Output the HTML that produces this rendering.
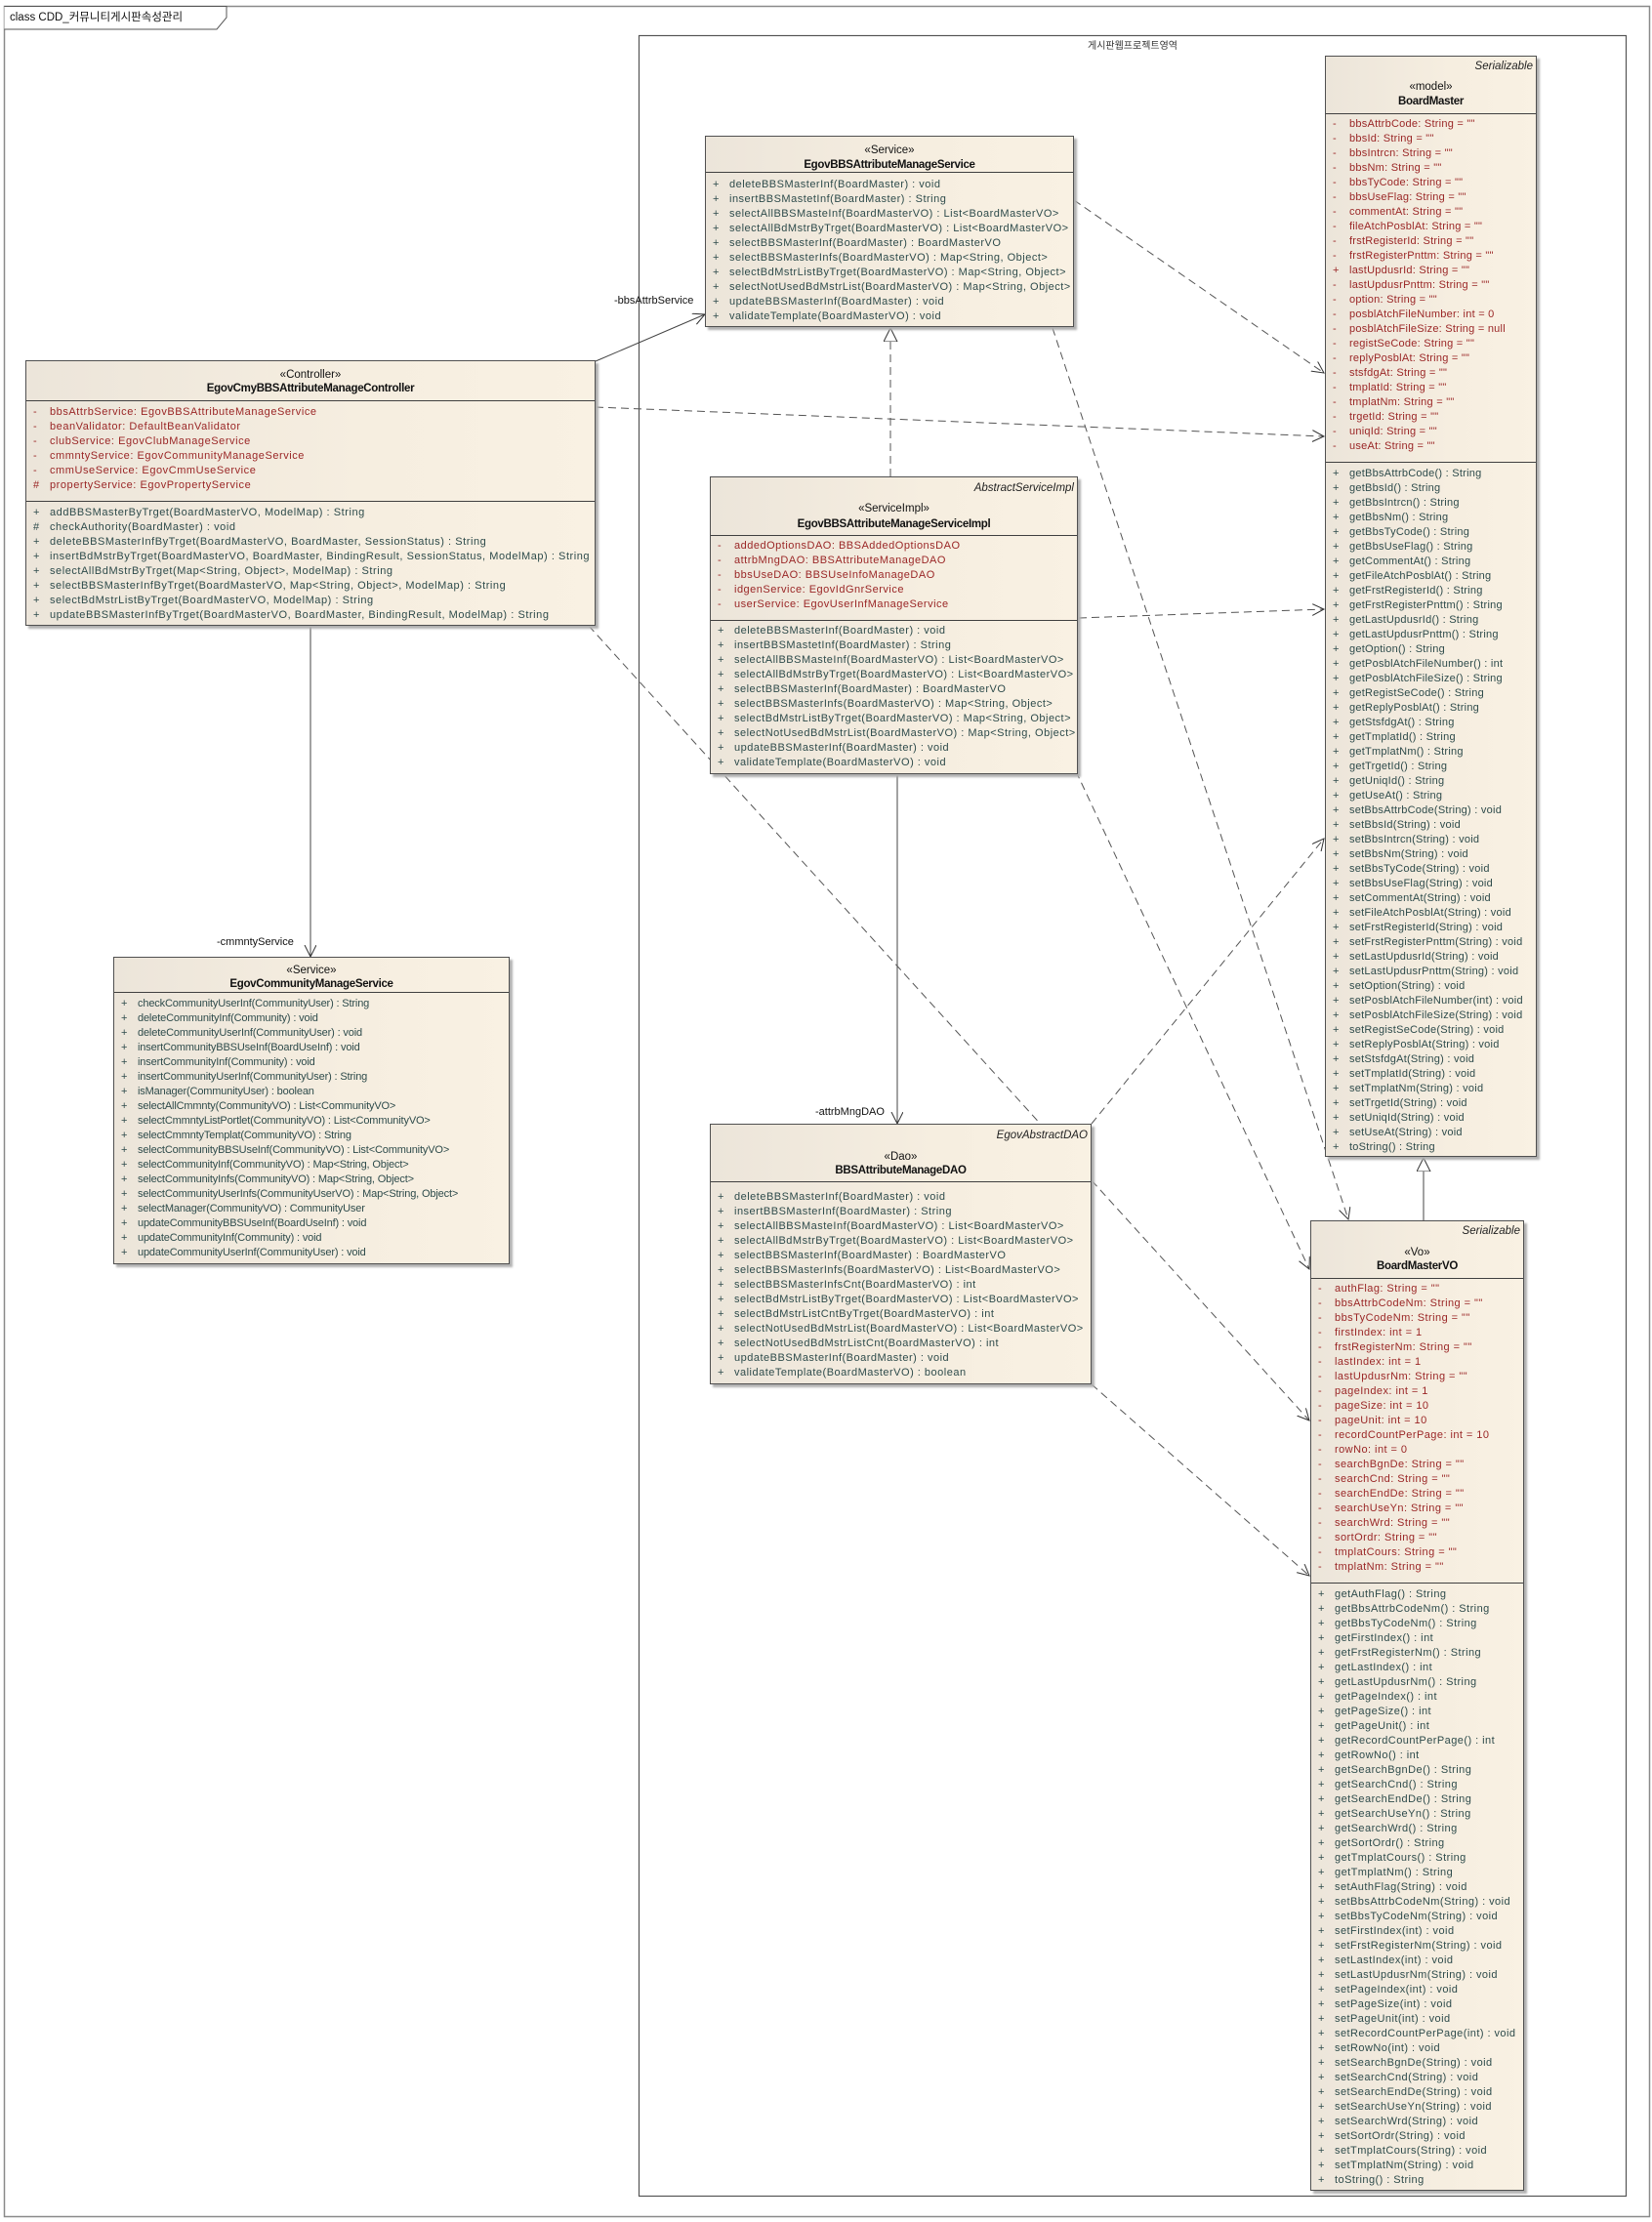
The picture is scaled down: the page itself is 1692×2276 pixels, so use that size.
<!DOCTYPE html>
<html><head><meta charset="utf-8">
<style>
html,body{margin:0;padding:0;background:#fff;}
body{width:1692px;height:2276px;position:relative;overflow:hidden;font-family:"Liberation Sans","Noto Sans CJK KR",sans-serif;}
.box{position:absolute;border:1px solid #505050;background:linear-gradient(90deg,#ece5da 0%,#f6eee0 60%,#f9f1e3 100%);box-shadow:3px 3px 2px #b0b0b0;box-sizing:border-box;}
.c{position:absolute;left:0;right:0;text-align:center;font-size:11.5px;line-height:14px;color:#111;white-space:nowrap;}
.n{font-weight:bold;letter-spacing:-0.3px;}
.it{position:absolute;right:3px;font-style:italic;font-size:11.5px;line-height:14px;color:#222;}
.dv{position:absolute;left:0;right:0;height:0;border-top:1px solid #404040;}
.rows{position:absolute;left:0;right:0;font-size:11px;line-height:15px;white-space:nowrap;letter-spacing:-0.15px;}
.rows div{position:relative;height:15px;padding-left:24px;}
.rows span{position:absolute;left:7px;letter-spacing:0;}
.a{color:#9a2626;}
.m{color:#2e4b4b;}
.w{font-size:11px !important;letter-spacing:0.5px !important;}
.lbl{position:absolute;font-size:11px;color:#111;white-space:nowrap;}
</style></head><body>

<svg width="1692" height="2276" style="position:absolute;left:0;top:0" xmlns="http://www.w3.org/2000/svg">
<defs>
<marker id="op" markerWidth="14" markerHeight="14" refX="12" refY="6" orient="auto" markerUnits="userSpaceOnUse"><path d="M0,0 L12,6 L0,12" fill="none" stroke="#333" stroke-width="1"/></marker>
<marker id="tri" markerWidth="16" markerHeight="16" refX="14" refY="7" orient="auto" markerUnits="userSpaceOnUse"><path d="M0,0 L14,7 L0,14 Z" fill="#fff" stroke="#333" stroke-width="1"/></marker>
</defs>
<rect x="4.5" y="6.5" width="1685" height="2264" fill="none" stroke="#8a8a8a" stroke-width="1.5"/>
<path d="M4.5,6.5 L232,6.5 L232,18 L222,30 L4.5,30" fill="#fff" stroke="#555" stroke-width="1"/>
<rect x="654.5" y="36.5" width="1011" height="2213" fill="none" stroke="#555" stroke-width="1.2"/>
<g stroke="#444" stroke-width="1" fill="none">
<line x1="610" y1="370" x2="722" y2="322" marker-end="url(#op)"/>
<line x1="318" y1="641" x2="318" y2="980" marker-end="url(#op)"/>
<line x1="919" y1="793" x2="919" y2="1151" marker-end="url(#op)"/>
<line x1="1458" y1="1250" x2="1458" y2="1186" marker-end="url(#tri)"/>
</g>
<g stroke="#555" stroke-width="1" fill="none" stroke-dasharray="8,5">
<line x1="912" y1="488" x2="912" y2="336" marker-end="url(#tri)"/>
<line x1="610" y1="417" x2="1356" y2="447" marker-end="url(#op)"/>
<line x1="1100" y1="205" x2="1356" y2="382" marker-end="url(#op)"/>
<line x1="1078" y1="336" x2="1381" y2="1249" marker-end="url(#op)"/>
<line x1="1105" y1="633" x2="1356" y2="624" marker-end="url(#op)"/>
<line x1="1102" y1="790" x2="1341" y2="1300" marker-end="url(#op)"/>
<line x1="1118" y1="1151" x2="1356" y2="859" marker-end="url(#op)"/>
<line x1="1118" y1="1418" x2="1341" y2="1614" marker-end="url(#op)"/>
<line x1="603" y1="641" x2="1341" y2="1455" marker-end="url(#op)"/>
</g>
</svg>

<div class="lbl" style="left:10px;top:9px;font-size:11.5px;">class CDD_커뮤니티게시판속성관리</div>
<div class="lbl" style="left:1060px;width:200px;text-align:center;top:38px;font-size:10px;color:#333;">게시판웹프로젝트영역</div>
<div class="lbl" style="left:629px;top:302px;">-bbsAttrbService</div>
<div class="lbl" style="left:222px;top:959px;">-cmmntyService</div>
<div class="lbl" style="left:835px;top:1133px;">-attrbMngDAO</div>

<!-- Controller -->
<div class="box" style="left:26px;top:369px;width:584px;height:272px;">
<div class="c" style="top:7px">«Controller»</div>
<div class="c n" style="top:21px">EgovCmyBBSAttributeManageController</div>
<div class="dv" style="top:40px"></div>
<div class="rows a" style="top:45px;letter-spacing:0.55px">
<div><span>-</span>bbsAttrbService:  EgovBBSAttributeManageService</div>
<div><span>-</span>beanValidator:  DefaultBeanValidator</div>
<div><span>-</span>clubService:  EgovClubManageService</div>
<div><span>-</span>cmmntyService:  EgovCommunityManageService</div>
<div><span>-</span>cmmUseService:  EgovCmmUseService</div>
<div><span>#</span>propertyService:  EgovPropertyService</div>
</div>
<div class="dv" style="top:143px"></div>
<div class="rows m" style="top:148px;letter-spacing:0.55px">
<div><span>+</span>addBBSMasterByTrget(BoardMasterVO, ModelMap) : String</div>
<div><span>#</span>checkAuthority(BoardMaster) : void</div>
<div><span>+</span>deleteBBSMasterInfByTrget(BoardMasterVO, BoardMaster, SessionStatus) : String</div>
<div><span>+</span>insertBdMstrByTrget(BoardMasterVO, BoardMaster, BindingResult, SessionStatus, ModelMap) : String</div>
<div><span>+</span>selectAllBdMstrByTrget(Map&lt;String, Object&gt;, ModelMap) : String</div>
<div><span>+</span>selectBBSMasterInfByTrget(BoardMasterVO, Map&lt;String, Object&gt;, ModelMap) : String</div>
<div><span>+</span>selectBdMstrListByTrget(BoardMasterVO, ModelMap) : String</div>
<div><span>+</span>updateBBSMasterInfByTrget(BoardMasterVO, BoardMaster, BindingResult, ModelMap) : String</div>
</div>
</div>

<!-- Service -->
<div class="box" style="left:722px;top:139px;width:378px;height:196px;">
<div class="c" style="top:7px">«Service»</div>
<div class="c n" style="top:22px">EgovBBSAttributeManageService</div>
<div class="dv" style="top:36px"></div>
<div class="rows m w" style="top:42px">
<div><span>+</span>deleteBBSMasterInf(BoardMaster) : void</div>
<div><span>+</span>insertBBSMastetInf(BoardMaster) : String</div>
<div><span>+</span>selectAllBBSMasteInf(BoardMasterVO) : List&lt;BoardMasterVO&gt;</div>
<div><span>+</span>selectAllBdMstrByTrget(BoardMasterVO) : List&lt;BoardMasterVO&gt;</div>
<div><span>+</span>selectBBSMasterInf(BoardMaster) : BoardMasterVO</div>
<div><span>+</span>selectBBSMasterInfs(BoardMasterVO) : Map&lt;String, Object&gt;</div>
<div><span>+</span>selectBdMstrListByTrget(BoardMasterVO) : Map&lt;String, Object&gt;</div>
<div><span>+</span>selectNotUsedBdMstrList(BoardMasterVO) : Map&lt;String, Object&gt;</div>
<div><span>+</span>updateBBSMasterInf(BoardMaster) : void</div>
<div><span>+</span>validateTemplate(BoardMasterVO) : void</div>
</div>
</div>

<!-- ServiceImpl -->
<div class="box" style="left:727px;top:488px;width:377px;height:305px;">
<div class="it" style="top:4px">AbstractServiceImpl</div>
<div class="c" style="top:25px">«ServiceImpl»</div>
<div class="c n" style="top:41px">EgovBBSAttributeManageServiceImpl</div>
<div class="dv" style="top:59px"></div>
<div class="rows a w" style="top:63px">
<div><span>-</span>addedOptionsDAO:  BBSAddedOptionsDAO</div>
<div><span>-</span>attrbMngDAO:  BBSAttributeManageDAO</div>
<div><span>-</span>bbsUseDAO:  BBSUseInfoManageDAO</div>
<div><span>-</span>idgenService:  EgovIdGnrService</div>
<div><span>-</span>userService:  EgovUserInfManageService</div>
</div>
<div class="dv" style="top:146px"></div>
<div class="rows m w" style="top:150px">
<div><span>+</span>deleteBBSMasterInf(BoardMaster) : void</div>
<div><span>+</span>insertBBSMastetInf(BoardMaster) : String</div>
<div><span>+</span>selectAllBBSMasteInf(BoardMasterVO) : List&lt;BoardMasterVO&gt;</div>
<div><span>+</span>selectAllBdMstrByTrget(BoardMasterVO) : List&lt;BoardMasterVO&gt;</div>
<div><span>+</span>selectBBSMasterInf(BoardMaster) : BoardMasterVO</div>
<div><span>+</span>selectBBSMasterInfs(BoardMasterVO) : Map&lt;String, Object&gt;</div>
<div><span>+</span>selectBdMstrListByTrget(BoardMasterVO) : Map&lt;String, Object&gt;</div>
<div><span>+</span>selectNotUsedBdMstrList(BoardMasterVO) : Map&lt;String, Object&gt;</div>
<div><span>+</span>updateBBSMasterInf(BoardMaster) : void</div>
<div><span>+</span>validateTemplate(BoardMasterVO) : void</div>
</div>
</div>

<!-- Community -->
<div class="box" style="left:116px;top:980px;width:406px;height:315px;">
<div class="c" style="top:6px">«Service»</div>
<div class="c n" style="top:20px">EgovCommunityManageService</div>
<div class="dv" style="top:35px"></div>
<div class="rows m" style="top:40px">
<div><span>+</span>checkCommunityUserInf(CommunityUser) : String</div>
<div><span>+</span>deleteCommunityInf(Community) : void</div>
<div><span>+</span>deleteCommunityUserInf(CommunityUser) : void</div>
<div><span>+</span>insertCommunityBBSUseInf(BoardUseInf) : void</div>
<div><span>+</span>insertCommunityInf(Community) : void</div>
<div><span>+</span>insertCommunityUserInf(CommunityUser) : String</div>
<div><span>+</span>isManager(CommunityUser) : boolean</div>
<div><span>+</span>selectAllCmmnty(CommunityVO) : List&lt;CommunityVO&gt;</div>
<div><span>+</span>selectCmmntyListPortlet(CommunityVO) : List&lt;CommunityVO&gt;</div>
<div><span>+</span>selectCmmntyTemplat(CommunityVO) : String</div>
<div><span>+</span>selectCommunityBBSUseInf(CommunityVO) : List&lt;CommunityVO&gt;</div>
<div><span>+</span>selectCommunityInf(CommunityVO) : Map&lt;String, Object&gt;</div>
<div><span>+</span>selectCommunityInfs(CommunityVO) : Map&lt;String, Object&gt;</div>
<div><span>+</span>selectCommunityUserInfs(CommunityUserVO) : Map&lt;String, Object&gt;</div>
<div><span>+</span>selectManager(CommunityVO) : CommunityUser</div>
<div><span>+</span>updateCommunityBBSUseInf(BoardUseInf) : void</div>
<div><span>+</span>updateCommunityInf(Community) : void</div>
<div><span>+</span>updateCommunityUserInf(CommunityUser) : void</div>
</div>
</div>

<!-- DAO -->
<div class="box" style="left:727px;top:1151px;width:391px;height:267px;">
<div class="it" style="top:4px">EgovAbstractDAO</div>
<div class="c" style="top:26px">«Dao»</div>
<div class="c n" style="top:40px">BBSAttributeManageDAO</div>
<div class="dv" style="top:58px"></div>
<div class="rows m w" style="top:67px">
<div><span>+</span>deleteBBSMasterInf(BoardMaster) : void</div>
<div><span>+</span>insertBBSMasterInf(BoardMaster) : String</div>
<div><span>+</span>selectAllBBSMasteInf(BoardMasterVO) : List&lt;BoardMasterVO&gt;</div>
<div><span>+</span>selectAllBdMstrByTrget(BoardMasterVO) : List&lt;BoardMasterVO&gt;</div>
<div><span>+</span>selectBBSMasterInf(BoardMaster) : BoardMasterVO</div>
<div><span>+</span>selectBBSMasterInfs(BoardMasterVO) : List&lt;BoardMasterVO&gt;</div>
<div><span>+</span>selectBBSMasterInfsCnt(BoardMasterVO) : int</div>
<div><span>+</span>selectBdMstrListByTrget(BoardMasterVO) : List&lt;BoardMasterVO&gt;</div>
<div><span>+</span>selectBdMstrListCntByTrget(BoardMasterVO) : int</div>
<div><span>+</span>selectNotUsedBdMstrList(BoardMasterVO) : List&lt;BoardMasterVO&gt;</div>
<div><span>+</span>selectNotUsedBdMstrListCnt(BoardMasterVO) : int</div>
<div><span>+</span>updateBBSMasterInf(BoardMaster) : void</div>
<div><span>+</span>validateTemplate(BoardMasterVO) : boolean</div>
</div>
</div>

<!-- BoardMaster -->
<div class="box" style="left:1357px;top:57px;width:217px;height:1128px;">
<div class="it" style="top:3px">Serializable</div>
<div class="c" style="top:24px">«model»</div>
<div class="c n" style="top:39px">BoardMaster</div>
<div class="dv" style="top:58px"></div>
<div class="rows a" style="top:62px;letter-spacing:0.25px">
<div><span>-</span>bbsAttrbCode:  String = ""</div>
<div><span>-</span>bbsId:  String = ""</div>
<div><span>-</span>bbsIntrcn:  String = ""</div>
<div><span>-</span>bbsNm:  String = ""</div>
<div><span>-</span>bbsTyCode:  String = ""</div>
<div><span>-</span>bbsUseFlag:  String = ""</div>
<div><span>-</span>commentAt:  String = ""</div>
<div><span>-</span>fileAtchPosblAt:  String = ""</div>
<div><span>-</span>frstRegisterId:  String = ""</div>
<div><span>-</span>frstRegisterPnttm:  String = ""</div>
<div><span>+</span>lastUpdusrId:  String = ""</div>
<div><span>-</span>lastUpdusrPnttm:  String = ""</div>
<div><span>-</span>option:  String = ""</div>
<div><span>-</span>posblAtchFileNumber:  int = 0</div>
<div><span>-</span>posblAtchFileSize:  String = null</div>
<div><span>-</span>registSeCode:  String = ""</div>
<div><span>-</span>replyPosblAt:  String = ""</div>
<div><span>-</span>stsfdgAt:  String = ""</div>
<div><span>-</span>tmplatId:  String = ""</div>
<div><span>-</span>tmplatNm:  String = ""</div>
<div><span>-</span>trgetId:  String = ""</div>
<div><span>-</span>uniqId:  String = ""</div>
<div><span>-</span>useAt:  String = ""</div>
</div>
<div class="dv" style="top:415px"></div>
<div class="rows m" style="top:420px;letter-spacing:0.25px">
<div><span>+</span>getBbsAttrbCode() : String</div>
<div><span>+</span>getBbsId() : String</div>
<div><span>+</span>getBbsIntrcn() : String</div>
<div><span>+</span>getBbsNm() : String</div>
<div><span>+</span>getBbsTyCode() : String</div>
<div><span>+</span>getBbsUseFlag() : String</div>
<div><span>+</span>getCommentAt() : String</div>
<div><span>+</span>getFileAtchPosblAt() : String</div>
<div><span>+</span>getFrstRegisterId() : String</div>
<div><span>+</span>getFrstRegisterPnttm() : String</div>
<div><span>+</span>getLastUpdusrId() : String</div>
<div><span>+</span>getLastUpdusrPnttm() : String</div>
<div><span>+</span>getOption() : String</div>
<div><span>+</span>getPosblAtchFileNumber() : int</div>
<div><span>+</span>getPosblAtchFileSize() : String</div>
<div><span>+</span>getRegistSeCode() : String</div>
<div><span>+</span>getReplyPosblAt() : String</div>
<div><span>+</span>getStsfdgAt() : String</div>
<div><span>+</span>getTmplatId() : String</div>
<div><span>+</span>getTmplatNm() : String</div>
<div><span>+</span>getTrgetId() : String</div>
<div><span>+</span>getUniqId() : String</div>
<div><span>+</span>getUseAt() : String</div>
<div><span>+</span>setBbsAttrbCode(String) : void</div>
<div><span>+</span>setBbsId(String) : void</div>
<div><span>+</span>setBbsIntrcn(String) : void</div>
<div><span>+</span>setBbsNm(String) : void</div>
<div><span>+</span>setBbsTyCode(String) : void</div>
<div><span>+</span>setBbsUseFlag(String) : void</div>
<div><span>+</span>setCommentAt(String) : void</div>
<div><span>+</span>setFileAtchPosblAt(String) : void</div>
<div><span>+</span>setFrstRegisterId(String) : void</div>
<div><span>+</span>setFrstRegisterPnttm(String) : void</div>
<div><span>+</span>setLastUpdusrId(String) : void</div>
<div><span>+</span>setLastUpdusrPnttm(String) : void</div>
<div><span>+</span>setOption(String) : void</div>
<div><span>+</span>setPosblAtchFileNumber(int) : void</div>
<div><span>+</span>setPosblAtchFileSize(String) : void</div>
<div><span>+</span>setRegistSeCode(String) : void</div>
<div><span>+</span>setReplyPosblAt(String) : void</div>
<div><span>+</span>setStsfdgAt(String) : void</div>
<div><span>+</span>setTmplatId(String) : void</div>
<div><span>+</span>setTmplatNm(String) : void</div>
<div><span>+</span>setTrgetId(String) : void</div>
<div><span>+</span>setUniqId(String) : void</div>
<div><span>+</span>setUseAt(String) : void</div>
<div><span>+</span>toString() : String</div>
</div>
</div>

<!-- BoardMasterVO -->
<div class="box" style="left:1342px;top:1250px;width:219px;height:994px;">
<div class="it" style="top:3px">Serializable</div>
<div class="c" style="top:25px">«Vo»</div>
<div class="c n" style="top:39px">BoardMasterVO</div>
<div class="dv" style="top:58px"></div>
<div class="rows a" style="top:62px;letter-spacing:0.45px">
<div><span>-</span>authFlag:  String = ""</div>
<div><span>-</span>bbsAttrbCodeNm:  String = ""</div>
<div><span>-</span>bbsTyCodeNm:  String = ""</div>
<div><span>-</span>firstIndex:  int = 1</div>
<div><span>-</span>frstRegisterNm:  String = ""</div>
<div><span>-</span>lastIndex:  int = 1</div>
<div><span>-</span>lastUpdusrNm:  String = ""</div>
<div><span>-</span>pageIndex:  int = 1</div>
<div><span>-</span>pageSize:  int = 10</div>
<div><span>-</span>pageUnit:  int = 10</div>
<div><span>-</span>recordCountPerPage:  int = 10</div>
<div><span>-</span>rowNo:  int = 0</div>
<div><span>-</span>searchBgnDe:  String = ""</div>
<div><span>-</span>searchCnd:  String = ""</div>
<div><span>-</span>searchEndDe:  String = ""</div>
<div><span>-</span>searchUseYn:  String = ""</div>
<div><span>-</span>searchWrd:  String = ""</div>
<div><span>-</span>sortOrdr:  String = ""</div>
<div><span>-</span>tmplatCours:  String = ""</div>
<div><span>-</span>tmplatNm:  String = ""</div>
</div>
<div class="dv" style="top:370px"></div>
<div class="rows m" style="top:375px;letter-spacing:0.45px">
<div><span>+</span>getAuthFlag() : String</div>
<div><span>+</span>getBbsAttrbCodeNm() : String</div>
<div><span>+</span>getBbsTyCodeNm() : String</div>
<div><span>+</span>getFirstIndex() : int</div>
<div><span>+</span>getFrstRegisterNm() : String</div>
<div><span>+</span>getLastIndex() : int</div>
<div><span>+</span>getLastUpdusrNm() : String</div>
<div><span>+</span>getPageIndex() : int</div>
<div><span>+</span>getPageSize() : int</div>
<div><span>+</span>getPageUnit() : int</div>
<div><span>+</span>getRecordCountPerPage() : int</div>
<div><span>+</span>getRowNo() : int</div>
<div><span>+</span>getSearchBgnDe() : String</div>
<div><span>+</span>getSearchCnd() : String</div>
<div><span>+</span>getSearchEndDe() : String</div>
<div><span>+</span>getSearchUseYn() : String</div>
<div><span>+</span>getSearchWrd() : String</div>
<div><span>+</span>getSortOrdr() : String</div>
<div><span>+</span>getTmplatCours() : String</div>
<div><span>+</span>getTmplatNm() : String</div>
<div><span>+</span>setAuthFlag(String) : void</div>
<div><span>+</span>setBbsAttrbCodeNm(String) : void</div>
<div><span>+</span>setBbsTyCodeNm(String) : void</div>
<div><span>+</span>setFirstIndex(int) : void</div>
<div><span>+</span>setFrstRegisterNm(String) : void</div>
<div><span>+</span>setLastIndex(int) : void</div>
<div><span>+</span>setLastUpdusrNm(String) : void</div>
<div><span>+</span>setPageIndex(int) : void</div>
<div><span>+</span>setPageSize(int) : void</div>
<div><span>+</span>setPageUnit(int) : void</div>
<div><span>+</span>setRecordCountPerPage(int) : void</div>
<div><span>+</span>setRowNo(int) : void</div>
<div><span>+</span>setSearchBgnDe(String) : void</div>
<div><span>+</span>setSearchCnd(String) : void</div>
<div><span>+</span>setSearchEndDe(String) : void</div>
<div><span>+</span>setSearchUseYn(String) : void</div>
<div><span>+</span>setSearchWrd(String) : void</div>
<div><span>+</span>setSortOrdr(String) : void</div>
<div><span>+</span>setTmplatCours(String) : void</div>
<div><span>+</span>setTmplatNm(String) : void</div>
<div><span>+</span>toString() : String</div>
</div>
</div>

</body></html>
